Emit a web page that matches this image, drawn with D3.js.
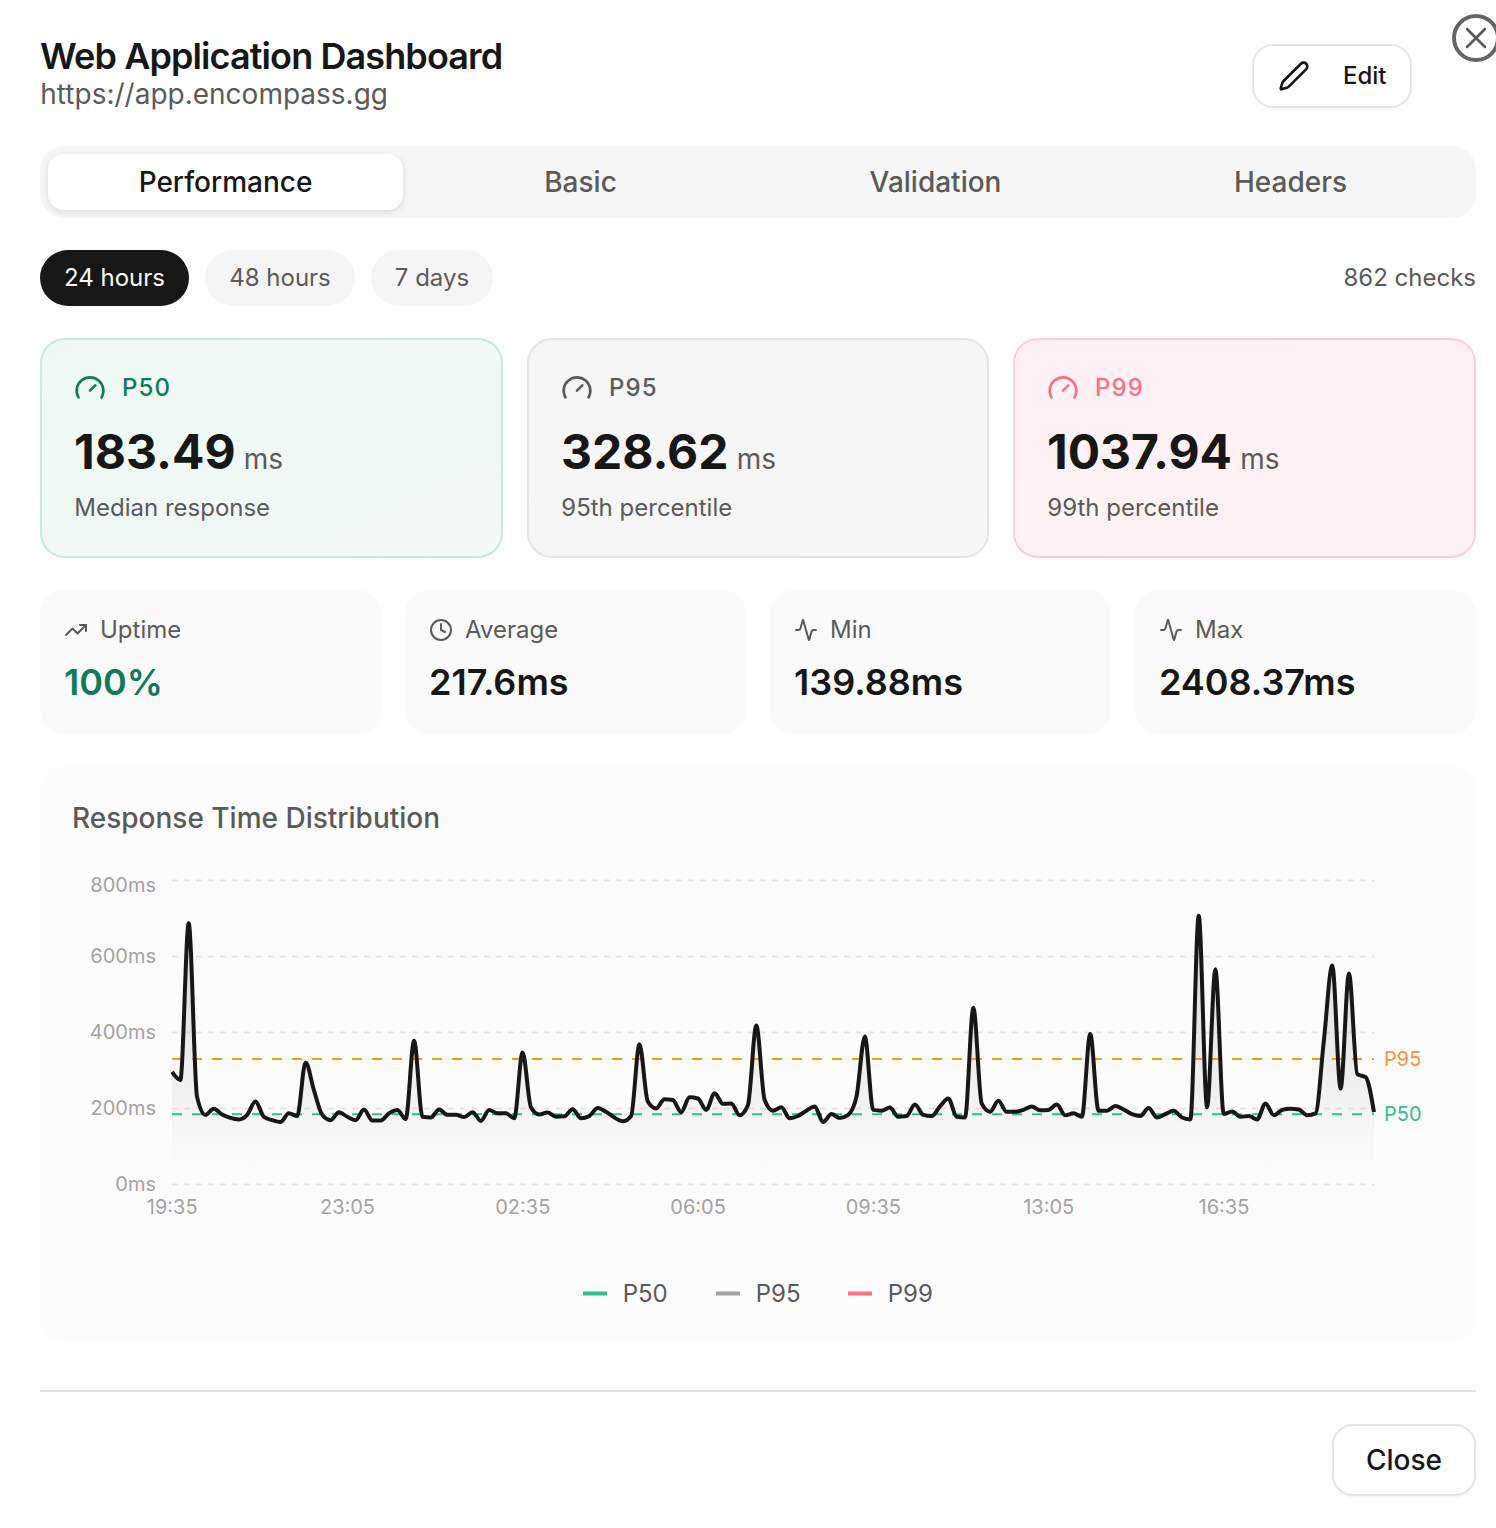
<!DOCTYPE html>
<html><head><meta charset="utf-8">
<script src="https://cdn.jsdelivr.net/npm/d3@7/dist/d3.min.js"></script>
<style>html,body{margin:0;padding:0;background:#fefefe;overflow:hidden}svg{display:block}text{font-family:Inter,sans-serif}</style>
</head><body><div id="app"></div>
<script>
const timeLabels=["19:35","23:05","02:35","06:05","09:35","13:05","16:35"];
const timeLabelEvery=21;
const yTicks=[0,200,400,600,800];
const responseMs=[295,274,686,230,182,198,183,174,170,182,217,177,168,163,186,179,320,247,182,168,189,177,168,196,167,167,186,195,171,377,177,175,196,182,182,176,189,166,195,186,186,173,346,202,183,188,177,178,197,173,179,200,190,175,165,179,368,217,199,223,221,189,228,225,195,239,211,212,181,208,417,221,193,202,173,179,193,204,163,184,174,182,230,388,195,193,201,177,179,209,182,179,204,225,177,175,464,212,190,219,190,190,195,204,194,195,209,181,186,177,395,193,193,205,196,184,179,200,175,184,193,175,170,706,202,565,184,191,177,179,170,212,181,195,198,196,181,186,379,575,251,554,289,281,189];
const p50Line=183.49, p95Line=328.62;
const tabNames=["Performance","Basic","Validation","Headers"];
const rangeNames=["24 hours","48 hours","7 days"];
const percentileNames=["P50","P95","P99"];
const percentileValues=["183.49","328.62","1037.94"];
const percentileNotes=["Median response","95th percentile","99th percentile"];
const statNames=["Uptime","Average","Min","Max"];
const statValues=["100%","217.6ms","139.88ms","2408.37ms"];

const ICON={
 gauge:["m12 14 4-4","M3.34 19a10 10 0 1 1 17.32 0"],
 pencil:["M21.174 6.812a1 1 0 0 0-3.986-3.987L3.842 16.174a2 2 0 0 0-.5.83l-1.321 4.352a.5.5 0 0 0 .623.622l4.353-1.32a2 2 0 0 0 .83-.497z"],
 trend:["M16 7h6v6","m22 7-8.5 8.5-5-5L2 17"],
 clock:["M22 12a10 10 0 1 1-20 0a10 10 0 1 1 20 0","M12 6v6l4 2"],
 activity:["M22 12h-2.48a2 2 0 0 0-1.93 1.46l-2.35 8.36a.25.25 0 0 1-.48 0L9.24 2.18a.25.25 0 0 0-.48 0l-2.35 8.36A2 2 0 0 1 4.49 12H2"]
};
const MUTED="#5a5a5a";
const svg=d3.select("#app").append("svg").attr("width",1496).attr("height",1528);
const defs=svg.append("defs");
const sh=defs.append("filter").attr("id","sh").attr("x","-10%").attr("y","-20%").attr("width","120%").attr("height","150%");
sh.append("feDropShadow").attr("dx",0).attr("dy",2).attr("stdDeviation",3).attr("flood-color","#000").attr("flood-opacity",.12);
const sh2=defs.append("filter").attr("id","sh2").attr("x","-10%").attr("y","-20%").attr("width","120%").attr("height","150%");
sh2.append("feDropShadow").attr("dx",0).attr("dy",1).attr("stdDeviation",1).attr("flood-color","#000").attr("flood-opacity",.05);

function cardGradient(id,from,to){
 const g=defs.append("linearGradient").attr("id",id).attr("x1",0).attr("y1",0).attr("x2",1).attr("y2",1);
 g.append("stop").attr("offset","0%").attr("stop-color",from);
 g.append("stop").attr("offset","100%").attr("stop-color",to);
}
cardGradient("gP50","#edf8f4","#f2f9f7");
cardGradient("gP95","#f5f5f5","#f6f7f6");
cardGradient("gP99","#fff0f3","#fff3f5");

function rect(x0,y0,x1,y1,r,fill,stroke,sw){
 return svg.append("rect").attr("x",x0).attr("y",y0).attr("width",x1-x0).attr("height",y1-y0).attr("rx",r)
  .attr("fill",fill).attr("stroke",stroke||"none").attr("stroke-width",sw||0);
}
function text(s,x,y,size,weight,fill,anchor,ls){
 return svg.append("text").text(s).attr("x",x).attr("y",y).attr("font-size",size).attr("font-weight",weight)
  .attr("fill",fill).attr("text-anchor",anchor||"start").attr("letter-spacing",ls||0);
}
function icon(name,x,y,size,color,sw){
 const g=svg.append("g").attr("transform",`translate(${x},${y}) scale(${size/24})`).attr("fill","none")
  .attr("stroke",color).attr("stroke-width",sw||2).attr("stroke-linecap","round").attr("stroke-linejoin","round");
 ICON[name].forEach(d=>g.append("path").attr("d",d));
}
// Header
text("Web Application Dashboard",40,69,36,600,"#171717","start",-0.9);
text("https://app.encompass.gg",40.3,104.3,28,400,MUTED,"start",0);
rect(1253,45,1411,107,20,"#fff","#e5e5e5",2).attr("filter","url(#sh2)");
icon("pencil",1278,60,32,"#171717",2);
text("Edit",1343,84,24,500,"#171717");
svg.append("circle").attr("cx",1476).attr("cy",38).attr("r",22).attr("fill","#fff").attr("stroke","#666").attr("stroke-width",4);
svg.append("path").attr("d","M1467 29L1485 47M1485 29L1467 47").attr("stroke",MUTED).attr("stroke-width",2.6).attr("stroke-linecap","round");

// Tabs
rect(40,146,1476,218,24,"#f5f6f5");
rect(48,154,403,210,16,"#fff").attr("filter","url(#sh)");
tabNames.forEach((t,i)=>text(t,225.5+i*355,192,28,500,i==0?"#171717":MUTED,"middle",0));

// Ranges
[[40,189],[205,355],[371,493]].forEach((b,i)=>{
 rect(b[0],250,b[1],306,28,i==0?"#171717":"#f5f5f5");
 text(rangeNames[i],(b[0]+b[1])/2,286,24,400,i==0?"#fafafa":MUTED,"middle",0);
});
text("862 checks",1476,286,24,400,MUTED,"end",0);

// Percentile cards
const pStyle=[
 {x0:41,x1:502,fill:"url(#gP50)",stroke:"#c8eadd",label:"#0f7b5a"},
 {x0:528,x1:988,fill:"url(#gP95)",stroke:"#e5e5e5",label:MUTED},
 {x0:1014,x1:1475,fill:"url(#gP99)",stroke:"#fecdd6",label:"#fb7185"}];
pStyle.forEach((c,i)=>{
 rect(c.x0,339,c.x1,557,24,c.fill,c.stroke,2);
 icon("gauge",c.x0+33,372,32,c.label,2);
 text(percentileNames[i],c.x0+81,396,24,500,c.label,"start",1.15);
 const v=text(percentileValues[i],c.x0+33,468.7,48,700,"#171717","start",0);
 const w=v.node().getComputedTextLength();
 text("ms",c.x0+33+w+8.2,469,28,400,MUTED,"start",0);
 text(percentileNotes[i],c.x0+33.3,516,24,400,MUTED,"start",0);
});

// Stat cards
const statX=[[40,381],[405,746],[770,1111],[1135,1476]];
const statIcons=["trend","clock","activity","activity"];
statX.forEach((b,i)=>{
 rect(b[0],590,b[1],734,24,"#fafafa");
 icon(statIcons[i],b[0]+24,618,24,MUTED,2);
 text(statNames[i],b[0]+60,638,24,400,MUTED,"start",0);
 text(statValues[i],b[0]+24,695,36,600,i==0?"#0f7b5a":"#171717","start",0);
});

// Chart panel
rect(40,766,1476,1342,24,"#fcfcfc");
text("Response Time Distribution",72,828,28,500,MUTED,"start",0);

const x=d3.scaleLinear().domain([0,responseMs.length-1]).range([172,1374]);
const y=d3.scaleLinear().domain([0,800]).range([1184,880]);
const grad=defs.append("linearGradient").attr("id","fillG").attr("x1",0).attr("y1",0).attr("x2",0).attr("y2",1);
grad.append("stop").attr("offset","5%").attr("stop-color","#171717").attr("stop-opacity",.15);
grad.append("stop").attr("offset","95%").attr("stop-color","#171717").attr("stop-opacity",0);

const gridG=svg.append("g").attr("transform","translate(172,0)")
 .call(d3.axisLeft(y).tickValues(yTicks).tickSize(-1202).tickFormat(""));
gridG.select(".domain").remove();
gridG.selectAll("line").attr("stroke","#e5e5e5").attr("stroke-width",2).attr("stroke-dasharray","6 6");

const area=d3.area().x((d,i)=>x(i)).y0(y(0)).y1(d=>y(d)).curve(d3.curveMonotoneX);
const line=d3.line().x((d,i)=>x(i)).y(d=>y(d)).curve(d3.curveMonotoneX);
svg.append("path").datum(responseMs).attr("d",area).attr("fill","url(#fillG)");

[[p95Line,"#f59e0b"],[p50Line,"#34bd8b"]].forEach(r=>{
 svg.append("line").attr("x1",172).attr("x2",1374).attr("y1",y(r[0])).attr("y2",y(r[0]))
  .attr("stroke",r[1]).attr("stroke-width",2).attr("stroke-dasharray","10 10");
});
svg.append("path").datum(responseMs).attr("d",line).attr("fill","none").attr("stroke","#171717").attr("stroke-width",4);
[[p95Line,"P95","#fb923c"],[p50Line,"P50","#34bd8b"]].forEach(r=>{
 text(r[1],1384,y(r[0])+7,20,400,r[2]);
});

const yAxis=svg.append("g").attr("transform","translate(156,0)")
 .call(d3.axisLeft(y).tickValues(yTicks).tickSize(0).tickPadding(0).tickFormat(d=>d+"ms"));
yAxis.select(".domain").remove();
yAxis.selectAll("text").attr("font-size",20).attr("fill","#a3a3a3").attr("font-family","Inter").attr("dy","0.31em");
yAxis.selectAll(".tick").filter(d=>d===800).select("text").attr("y",5);

const xAxis=svg.append("g").attr("transform","translate(-0.3,1184)")
 .call(d3.axisBottom(x).tickValues(timeLabels.map((_,i)=>i*timeLabelEvery)).tickSize(0).tickPadding(0).tickFormat((d,i)=>timeLabels[i]));
xAxis.select(".domain").remove();
xAxis.selectAll("text").attr("font-size",20).attr("fill","#a3a3a3").attr("font-family","Inter").attr("y",30).attr("dy",0);

// Legend
[[583,"#34bd8b"],[716,"#a3a3a3"],[848,"#fb7185"]].forEach((l,i)=>{
 svg.append("line").attr("x1",l[0]).attr("x2",l[0]+24).attr("y1",1293.5).attr("y2",1293.5).attr("stroke",l[1]).attr("stroke-width",4);
 text(percentileNames[i],l[0]+39.7,1302,24,400,MUTED,"start",0);
});

// Footer
svg.append("line").attr("x1",40).attr("x2",1476).attr("y1",1391).attr("y2",1391).attr("stroke","#e5e5e5").attr("stroke-width",2);
rect(1333,1425,1475,1495,20,"#fff","#e5e5e5",2).attr("filter","url(#sh2)");
text("Close",1404,1470,28,500,"#171717","middle",0);
</script></body></html>
